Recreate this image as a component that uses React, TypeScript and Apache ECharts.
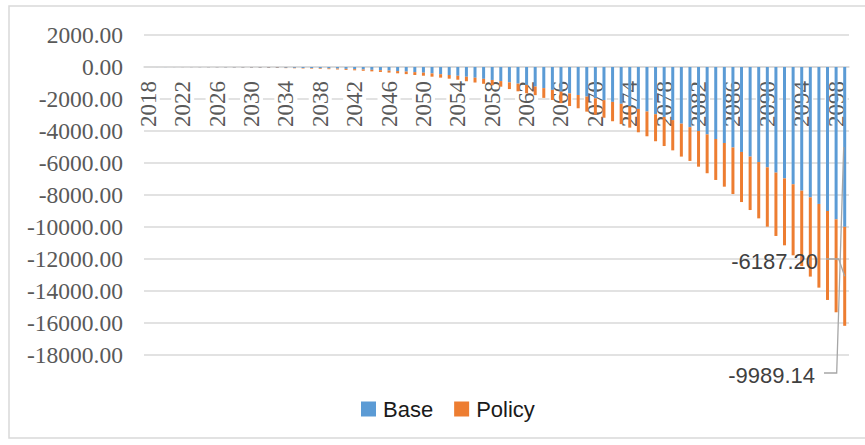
import React, { useEffect, useRef } from "react";
import * as echarts from "echarts";

// Years 2018–2099, one bar per year
const years: string[] = Array.from({ length: 82 }, (_, i) => String(2018 + i));

// Base scenario values per year
const baseValues: number[] = [
  -1, -2, -3, -4, -5, -7, -9, -11, -13, -16, -19, -22, -26, -30, -35, -40, -46, -52, -60, -68, -78, -88,
  -100, -118, -136, -155, -178, -200, -225, -255, -285, -320,
  -355, -400, -450, -500, -550, -610, -670, -740, -810, -880,
  -960, -1040, -1120, -1220, -1320, -1430, -1540, -1650, -1750, -1850,
  -1960, -2070, -2180, -2300, -2450, -2620, -2780, -2950, -3120, -3320,
  -3540, -3760, -4000, -4210, -4500, -4750, -5030, -5310, -5600, -5940,
  -6270, -6600, -6960, -7330, -7730, -8145, -8560, -9000, -9520, -9989.14,
];

// Policy scenario values per year (stacked under Base)
const policyValues: number[] = [
  -0.5, -1, -1.5, -2, -3, -4, -5, -6, -7, -8, -10, -12, -14, -16, -19, -22, -25, -28, -32, -36, -42, -48,
  -55, -62, -72, -82, -95, -110, -125, -140, -160, -180,
  -190, -205, -215, -230, -245, -280, -300, -310, -330, -350,
  -420, -480, -520, -540, -610, -630, -720, -790, -830, -940,
  -1020, -1100, -1210, -1270, -1340, -1460, -1550, -1690, -1820, -1890,
  -2060, -2110, -2230, -2430, -2560, -2730, -2910, -3130, -3340, -3520,
  -3710, -3960, -4185, -4440, -4710, -4955, -5230, -5560, -5810, -6187.2,
];

const seriesNames = ["Base", "Policy"];
const seriesColors = ["#5B9BD5", "#ED7D31"];

const yMin = -18000;
const yMax = 2000;
const yStep = 2000;

export default function App() {
  const ref = useRef<HTMLDivElement>(null);

  useEffect(() => {
    if (!ref.current) return;
    const chart = echarts.init(ref.current, null, { renderer: "svg" });
    const serif = "'Liberation Serif', 'Times New Roman', serif";
    const sans = "'Liberation Sans', Arial, sans-serif";

    const gridTop = 35;
    const gridHeight = 320;
    // Category labels sit on the zero line rather than at the bottom of the plot
    const zeroOffset = -gridHeight * (0 - yMin) / (yMax - yMin);

    chart.setOption({
      animation: false,
      backgroundColor: "#ffffff",
      grid: { left: 144, right: 16, top: gridTop, height: gridHeight, containLabel: false },
      legend: {
        data: seriesNames,
        left: 361,
        top: 398,
        padding: 0,
        icon: "rect",
        itemWidth: 15,
        itemHeight: 15,
        itemGap: 21,
        textStyle: { fontFamily: sans, fontSize: 22, color: "#1a1a1a", padding: [0, 0, 0, 2] },
      },
      xAxis: {
        type: "category",
        data: years,
        offset: zeroOffset,
        axisTick: { show: false },
        axisLine: { onZero: false, lineStyle: { color: "#d9d9d9", width: 1.5 } },
        axisLabel: {
          interval: 3,
          rotate: 90,
          margin: 14,
          fontFamily: serif,
          fontSize: 23,
          color: "#595959",
          backgroundColor: "#ffffff",
        },
      },
      yAxis: {
        type: "value",
        min: yMin,
        max: yMax,
        interval: yStep,
        axisLine: { show: false },
        axisTick: { show: false },
        splitLine: { lineStyle: { color: "#d9d9d9", width: 1.5 } },
        axisLabel: {
          margin: 21,
          fontFamily: serif,
          fontSize: 23.5,
          color: "#595959",
          formatter: (v: number) => v.toFixed(2),
        },
      },
      series: [
        {
          name: seriesNames[0],
          type: "bar",
          stack: "total",
          barWidth: 3,
          itemStyle: { color: seriesColors[0] },
          data: baseValues,
        },
        {
          name: seriesNames[1],
          type: "bar",
          stack: "total",
          barWidth: 3,
          itemStyle: { color: seriesColors[1] },
          data: policyValues,
        },
      ],
    });

    // Data labels with leader lines for the final year
    const last = years.length - 1;
    const baseLast = baseValues[last];
    const policyLast = policyValues[last];
    const baseMid = chart.convertToPixel({ xAxisIndex: 0, yAxisIndex: 0 }, [last, baseLast / 2]) as number[];
    const policyMid = chart.convertToPixel(
      { xAxisIndex: 0, yAxisIndex: 0 },
      [last, baseLast + policyLast / 2]
    ) as number[];

    const lineStyle = { stroke: "#a6a6a6", lineWidth: 1.3, fill: null };
    const labelStyle = { fontFamily: sans, fontSize: 22, fill: "#404040" };

    chart.setOption({
      graphic: [
        {
          type: "rect",
          shape: { x: 9, y: 6, width: 880, height: 432 },
          style: { stroke: "#d9d9d9", lineWidth: 1.5, fill: null },
          silent: true,
        },
        {
          type: "polyline",
          shape: {
            points: [
              [824, 373],
              [baseMid[0] - 8, 373],
              [baseMid[0] - 1, baseMid[1]],
            ],
          },
          style: lineStyle,
          z: 10,
        },
        {
          type: "text",
          x: 815,
          y: 375,
          style: { ...labelStyle, text: baseLast.toFixed(2), align: "right", verticalAlign: "middle" },
          z: 10,
        },
        {
          type: "polyline",
          shape: {
            points: [
              [826, 259],
              [policyMid[0] - 6, 259],
              [policyMid[0], policyMid[1]],
            ],
          },
          style: lineStyle,
          z: 10,
        },
        {
          type: "text",
          x: 818,
          y: 261,
          style: { ...labelStyle, text: policyLast.toFixed(2), align: "right", verticalAlign: "middle" },
          z: 10,
        },
      ],
    });

    return () => chart.dispose();
  }, []);

  return (
    <div
      ref={ref}
      style={{ position: "absolute", left: 0, top: 0, width: 865, height: 445 }}
    />
  );
}
